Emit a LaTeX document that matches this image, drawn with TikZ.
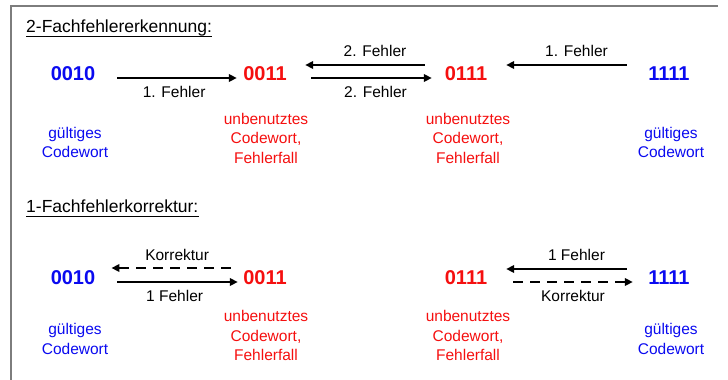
\documentclass[tikz,border=0pt]{standalone}
\usepackage{fontspec}
\setmainfont{Liberation Sans}
\usetikzlibrary{arrows.meta}
\definecolor{cblue}{RGB}{10,10,240}
\definecolor{cred}{RGB}{245,15,15}
\definecolor{framegray}{RGB}{125,125,125}
\begin{document}
\begin{tikzpicture}[x=1pt,y=-1pt,
  code/.style={font=\fontsize{20}{22}\selectfont\bfseries, inner sep=0pt, minimum width=44pt},
  bluecode/.style={code, text=cblue},
  redcode/.style={code, text=cred},
  lbl/.style={font=\fontsize{15.5}{19.5}\selectfont, align=center, inner sep=0pt},
  bluelbl/.style={lbl, text=cblue},
  redlbl/.style={lbl, text=cred},
  elbl/.style={font=\fontsize{15.5}{19}\selectfont, inner sep=0pt, text=black},
  ttl/.style={font=\fontsize{17.5}{20}\selectfont, anchor=base west, inner sep=0pt},
  arr/.style={line width=2pt, -{Triangle[length=8pt,width=7.5pt]}},
  darr/.style={arr, line width=2.3pt, dash pattern=on 10pt off 7pt},
  frameline/.style={draw=framegray, line width=1.5pt}
]
\useasboundingbox (0,0) rectangle (728,380);
\draw[frameline] (11,381) -- (11,6) -- (718,6);

% ---------- top section ----------
\node[ttl] (t1) at (26,32) {2-Fachfehlererkennung:};
\draw[line width=0.9pt] ([yshift=-4pt]t1.base west) -- ([yshift=-4pt]t1.base east);

\node[bluecode] (a1) at (73,74) {0010};
\node[redcode]  (b1) at (265,74) {0011};
\node[redcode]  (c1) at (466,74) {0111};
\node[bluecode] (d1) at (669,74) {1111};

\node[bluelbl] (la1) at (75,142.5) {gültiges\\Codewort};
\node[redlbl]  (lb1) at (266,138) {unbenutztes\\Codewort,\\Fehlerfall};
\node[redlbl]  (lc1) at (468,138) {unbenutztes\\Codewort,\\Fehlerfall};
\node[bluelbl] (ld1) at (671,142.5) {gültiges\\Codewort};

\draw[arr] ([xshift=22pt,yshift=-4pt]a1.east) -- ([xshift=-6pt,yshift=-4pt]b1.west)
  node[elbl, midway, below=7.5pt, xshift=-3pt] {1. Fehler};
\draw[arr] ([xshift=-19pt,yshift=9pt]c1.west) -- ([xshift=18pt,yshift=9pt]b1.east)
  node[elbl, midway, above=7.5pt, xshift=10pt] {2. Fehler};
\draw[arr] ([xshift=24pt,yshift=-4pt]b1.east) -- ([xshift=-12pt,yshift=-4pt]c1.west)
  node[elbl, midway, below=7.5pt, xshift=4pt] {2. Fehler};
\draw[arr] ([xshift=-20pt,yshift=9pt]d1.west) -- ([xshift=18pt,yshift=9pt]c1.east)
  node[elbl, midway, above=7.5pt, xshift=10pt] {1. Fehler};

% ---------- bottom section ----------
\node[ttl] (t2) at (26,212) {1-Fachfehlerkorrektur:};
\draw[line width=0.9pt] ([yshift=-4pt]t2.base west) -- ([yshift=-4pt]t2.base east);

\node[bluecode] (a2) at (73,278) {0010};
\node[redcode]  (b2) at (265,278) {0011};
\node[redcode]  (c2) at (466,278) {0111};
\node[bluecode] (d2) at (669,278) {1111};

\node[bluelbl] (la2) at (75,339) {gültiges\\Codewort};
\node[redlbl]  (lb2) at (266,335.5) {unbenutztes\\Codewort,\\Fehlerfall};
\node[redlbl]  (lc2) at (468,335.5) {unbenutztes\\Codewort,\\Fehlerfall};
\node[bluelbl] (ld2) at (671,339) {gültiges\\Codewort};

\draw[darr] ([xshift=-12pt,yshift=10pt]b2.west) -- ([xshift=16pt,yshift=10pt]a2.east)
  node[elbl, midway, above=6.5pt, xshift=6pt] {Korrektur};
\draw[arr] ([xshift=22pt,yshift=-4pt]a2.east) -- ([xshift=-5pt,yshift=-4pt]b2.west)
  node[elbl, midway, below=7.5pt, xshift=-3pt] {1 Fehler};
\draw[arr] ([xshift=-20pt,yshift=9pt]d2.west) -- ([xshift=18pt,yshift=9pt]c2.east)
  node[elbl, midway, above=7.5pt, xshift=10pt] {1 Fehler};
\draw[darr] ([xshift=25pt,yshift=-4pt]c2.east) -- ([xshift=-14pt,yshift=-4pt]d2.west)
  node[elbl, midway, below=7.5pt] {Korrektur};
\end{tikzpicture}
\end{document}
